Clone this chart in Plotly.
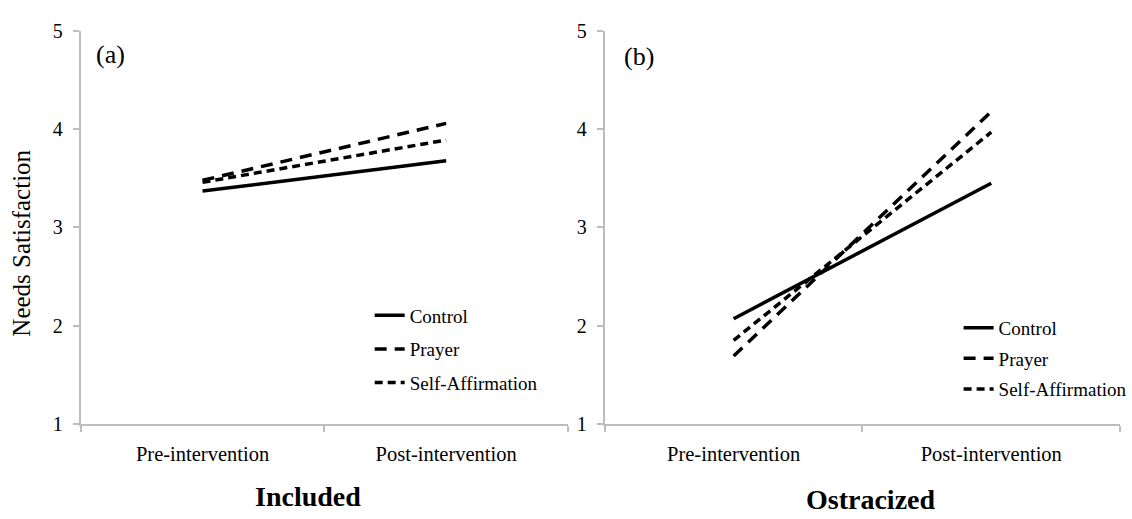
import plotly.graph_objects as go

categories = ["Pre-intervention", "Post-intervention"]
series_names = ["Control", "Prayer", "Self-Affirmation"]

included_control = [3.37, 3.68]
included_prayer = [3.48, 4.06]
included_selfaff = [3.46, 3.89]

ostracized_control = [2.07, 3.45]
ostracized_prayer = [1.69, 4.18]
ostracized_selfaff = [1.85, 3.97]

y_ticks = [1, 2, 3, 4, 5]

W, H = 1132, 519
FONT = "Liberation Serif, Times New Roman, serif"
AXIS_GRAY = "#bdbdbd"

dashes = {"Control": "solid", "Prayer": "12px,8px", "Self-Affirmation": "8px,5px"}

fig = go.Figure()

panels = [
    ("x", "y", "legend", [included_control, included_prayer, included_selfaff]),
    ("x2", "y2", "legend2", [ostracized_control, ostracized_prayer, ostracized_selfaff]),
]
for xa, ya, lg, data in panels:
    for i, (name, vals) in enumerate(zip(series_names, data)):
        fig.add_trace(go.Scatter(
            x=categories, y=vals, mode="lines", name=name,
            line=dict(color="black", width=3.5, dash=dashes[name]),
            xaxis=xa, yaxis=ya, legend=lg, legendgroup=lg + name,
            hoverinfo="skip",
        ))

def px_x(p):
    return p / W

def px_y(p):
    return (H - p) / H

xaxis_common = dict(
    type="category", range=[-0.5, 1.5], showline=True, linecolor=AXIS_GRAY, linewidth=2,
    ticks="outside", tickson="boundaries", ticklen=6, tickcolor=AXIS_GRAY, tickwidth=2,
    showgrid=False, zeroline=False, tickfont=dict(family=FONT, size=20.5, color="black"),
    ticklabelstandoff=11, fixedrange=True,
)
yaxis_common = dict(
    range=[1, 5], tickvals=y_ticks, showline=True, linecolor=AXIS_GRAY, linewidth=2,
    ticks="outside", ticklen=6, tickcolor=AXIS_GRAY, tickwidth=2,
    showgrid=False, zeroline=False, tickfont=dict(family=FONT, size=20, color="black"),
    ticklabelstandoff=6, domain=[px_y(431), px_y(21)], fixedrange=True,
)

legend_common = dict(
    font=dict(family=FONT, size=19, color="black"), bgcolor="rgba(0,0,0,0)",
    borderwidth=0, xanchor="left", yanchor="top",
)

fig.update_layout(
    width=W, height=H, margin=dict(l=0, r=0, t=0, b=0),
    paper_bgcolor="white", plot_bgcolor="white",
    xaxis=dict(xaxis_common, domain=[px_x(81), px_x(570)], anchor="y"),
    yaxis=dict(yaxis_common, anchor="x"),
    xaxis2=dict(xaxis_common, domain=[px_x(607), px_x(1124)], anchor="y2"),
    yaxis2=dict(yaxis_common, anchor="x2"),
    legend=dict(legend_common, x=px_x(371), y=px_y(298), tracegroupgap=6),
    legend2=dict(legend_common, x=px_x(962), y=px_y(311), tracegroupgap=3),
    showlegend=True,
)

annotations = [
    dict(text="Needs Satisfaction", x=px_x(22), y=px_y(242), textangle=-90,
         font=dict(family=FONT, size=25, color="black")),
    dict(text="<b>Included</b>", x=px_x(309), y=px_y(507),
         font=dict(family=FONT, size=28, color="black")),
    dict(text="<b>Ostracized</b>", x=px_x(874), y=px_y(510),
         font=dict(family=FONT, size=28, color="black")),
    dict(text="(a)", x=px_x(111), y=px_y(45), font=dict(family=FONT, size=26, color="black")),
    dict(text="(b)", x=px_x(641), y=px_y(48), font=dict(family=FONT, size=26, color="black")),
]
for a in annotations:
    fig.add_annotation(xref="paper", yref="paper", showarrow=False,
                       xanchor="center", yanchor="middle", **a)

fig.write_html("out.html")
